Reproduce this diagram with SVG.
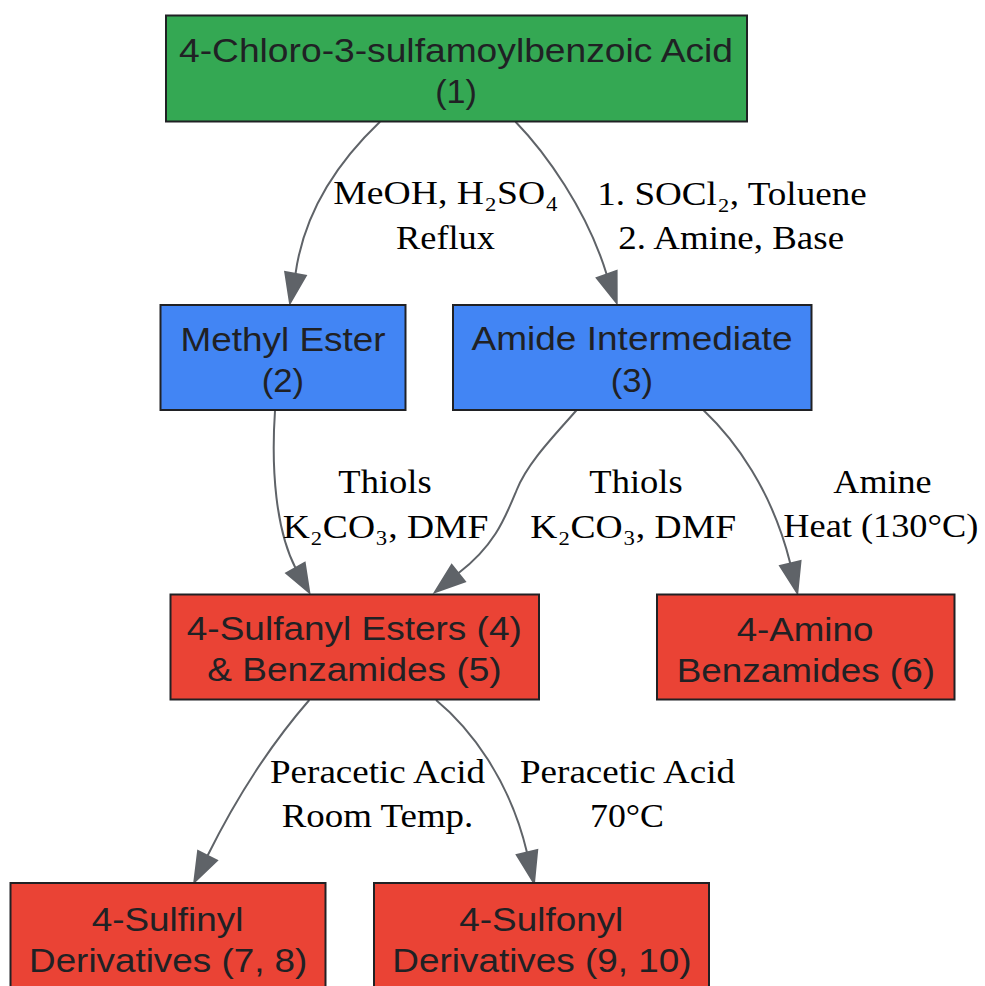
<svg xmlns="http://www.w3.org/2000/svg" width="985" height="986" viewBox="0 0 985 986">
<style>
.n rect{stroke:#202124;stroke-width:2}
.g{fill:#34A853}.b{fill:#4285F4}.r{fill:#EA4335}
.nt{font-family:"Liberation Sans",Arial,sans-serif;font-size:33px;fill:#202124;text-anchor:middle}
.et{font-family:"Liberation Serif","Times New Roman",serif;font-size:34px;fill:#000;text-anchor:middle}
.e path{fill:none;stroke:#5F6368;stroke-width:2}
.e polygon{fill:#5F6368;stroke:#5F6368;stroke-width:2}
</style>
<rect width="985" height="986" fill="#fff"/>
<g id="edges" class="e">
<path d="M380,121.7 C345,155 305,205 295.5,273.8"/>
<polygon points="290,303 285.2,271.9 305.8,275.7"/>
<path d="M515.5,121.7 C545,152 587,210 606.7,274.5"/>
<polygon points="616.7,303 596.8,278 616.6,271"/>
<path d="M275,410.7 C271,470 276,530 295.5,568"/>
<polygon points="309.3,592.5 286.3,573.2 304.7,562.8"/>
<path d="M576.7,410 C555,435 528,462 516.7,490 C505,518 495,545 458.3,573.3"/>
<polygon points="435,592 451.7,565.1 464.9,581.5"/>
<path d="M703.3,410 C735,440 772,490 790.3,563.5"/>
<polygon points="797.3,593 780.1,565.9 800.5,561.1"/>
<path d="M309.3,700 C285,728 245,780 207.5,855.8"/>
<polygon points="194.3,882 198.1,851.1 216.9,860.5"/>
<path d="M436,700 C470,728 510,780 527,852.5"/>
<polygon points="534,883 516.8,854.9 537.2,850.1"/>
</g>
<g id="edge-labels">
<text class="et" x="445.8" y="204" textLength="225" lengthAdjust="spacingAndGlyphs">MeOH, H₂SO₄</text>
<text class="et" x="445.5" y="249" textLength="99" lengthAdjust="spacingAndGlyphs">Reflux</text>
<text class="et" x="732" y="205" textLength="269.4" lengthAdjust="spacingAndGlyphs">1. SOCl₂, Toluene</text>
<text class="et" x="731.2" y="249.3" textLength="225.7" lengthAdjust="spacingAndGlyphs">2. Amine, Base</text>
<text class="et" x="385" y="493.3" textLength="93.3" lengthAdjust="spacingAndGlyphs">Thiols</text>
<text class="et" x="385.5" y="538.3" textLength="205.7" lengthAdjust="spacingAndGlyphs">K₂CO₃, DMF</text>
<text class="et" x="636" y="493.3" textLength="93.3" lengthAdjust="spacingAndGlyphs">Thiols</text>
<text class="et" x="633.2" y="538.3" textLength="205.7" lengthAdjust="spacingAndGlyphs">K₂CO₃, DMF</text>
<text class="et" x="882.5" y="493.3" textLength="98.3" lengthAdjust="spacingAndGlyphs">Amine</text>
<text class="et" x="880.8" y="537" textLength="195" lengthAdjust="spacingAndGlyphs">Heat (130°C)</text>
<text class="et" x="377.5" y="782.7" textLength="215" lengthAdjust="spacingAndGlyphs">Peracetic Acid</text>
<text class="et" x="377.5" y="826.7" textLength="191.7" lengthAdjust="spacingAndGlyphs">Room Temp.</text>
<text class="et" x="627.5" y="782.7" textLength="215" lengthAdjust="spacingAndGlyphs">Peracetic Acid</text>
<text class="et" x="627" y="826.7" textLength="74" lengthAdjust="spacingAndGlyphs">70°C</text>
</g>
<g id="n1" class="n">
<rect class="g" x="166" y="15.5" width="581" height="106"/>
<text class="nt" x="456" y="62" textLength="554" lengthAdjust="spacingAndGlyphs">4-Chloro-3-sulfamoylbenzoic Acid</text>
<text class="nt" x="456" y="103" textLength="41.7" lengthAdjust="spacingAndGlyphs">(1)</text>
</g>
<g id="n2" class="n">
<rect class="b" x="160.5" y="305" width="245" height="105"/>
<text class="nt" x="283" y="351" textLength="205" lengthAdjust="spacingAndGlyphs">Methyl Ester</text>
<text class="nt" x="283" y="392" textLength="42.3" lengthAdjust="spacingAndGlyphs">(2)</text>
</g>
<g id="n3" class="n">
<rect class="b" x="453" y="305" width="358.5" height="105"/>
<text class="nt" x="632" y="350" textLength="321" lengthAdjust="spacingAndGlyphs">Amide Intermediate</text>
<text class="nt" x="632" y="392" textLength="42.3" lengthAdjust="spacingAndGlyphs">(3)</text>
</g>
<g id="n4" class="n">
<rect class="r" x="170.5" y="594.5" width="368.5" height="105"/>
<text class="nt" x="354.3" y="640" textLength="335" lengthAdjust="spacingAndGlyphs">4-Sulfanyl Esters (4)</text>
<text class="nt" x="354.5" y="681" textLength="294.4" lengthAdjust="spacingAndGlyphs">&amp; Benzamides (5)</text>
</g>
<g id="n6" class="n">
<rect class="r" x="657" y="594.5" width="297.5" height="105"/>
<text class="nt" x="805" y="640.7" textLength="136.7" lengthAdjust="spacingAndGlyphs">4-Amino</text>
<text class="nt" x="805.8" y="681.7" textLength="258.3" lengthAdjust="spacingAndGlyphs">Benzamides (6)</text>
</g>
<g id="n7" class="n">
<rect class="r" x="10.5" y="883" width="315" height="106"/>
<text class="nt" x="167.5" y="930.7" textLength="151.7" lengthAdjust="spacingAndGlyphs">4-Sulfinyl</text>
<text class="nt" x="168.2" y="971.7" textLength="278.3" lengthAdjust="spacingAndGlyphs">Derivatives (7, 8)</text>
</g>
<g id="n9" class="n">
<rect class="r" x="374" y="883" width="335" height="106"/>
<text class="nt" x="541.3" y="930.7" textLength="164" lengthAdjust="spacingAndGlyphs">4-Sulfonyl</text>
<text class="nt" x="542" y="971.7" textLength="299.3" lengthAdjust="spacingAndGlyphs">Derivatives (9, 10)</text>
</g>
</svg>
